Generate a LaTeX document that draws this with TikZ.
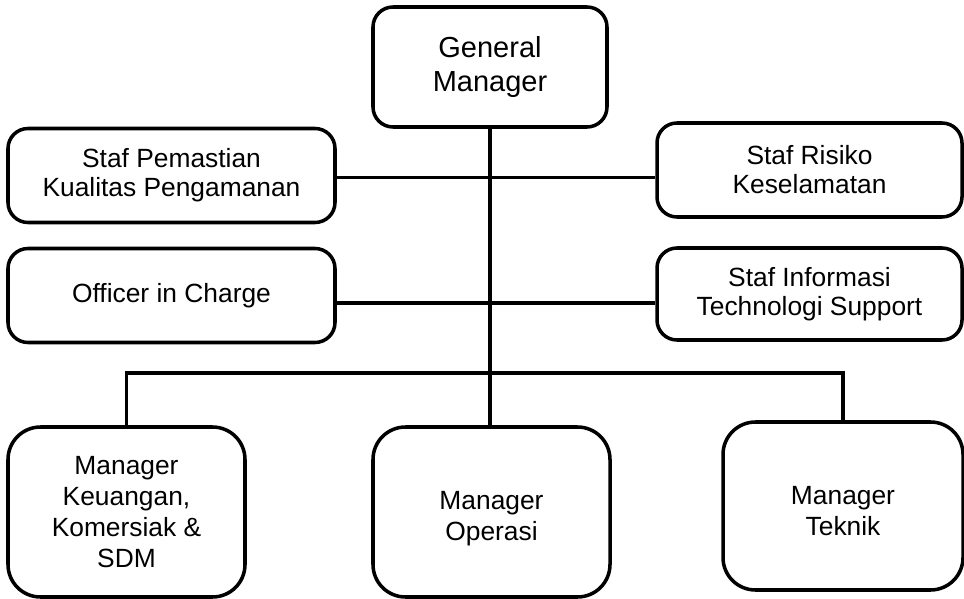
\documentclass[tikz,border=0pt]{standalone}
\usepackage{fontspec}
\setmainfont{Liberation Sans}
\usepackage {tikz}
\usetikzlibrary {positioning}
\tikzset{unit box/.style = {draw, rounded corners=0.4cm, align=center, inner sep=0pt}}

\begin{document}
\begin{tikzpicture}[line width=2pt, font=\fontsize{15}{16.5}\selectfont,
  head box/.style={unit box, minimum width=4.68cm, minimum height=2.4cm, font=\fontsize{16.5}{19}\selectfont},
  staff box/.style={unit box, minimum height=1.88cm},
  mgr box/.style={unit box, rounded corners=0.65cm, minimum width=4.74cm, minimum height=3.4cm, font=\fontsize{15}{17.5}\selectfont}]
            \useasboundingbox (0,0) rectangle (19.28,-11.98);
            \node[head box] (gm) at (9.8,-1.34) {General\\Manager};
            \node[staff box, minimum width=6.54cm] (pem) at (3.43,-3.51) {Staf Pemastian\\Kualitas Pengamanan};
            \node[staff box, minimum width=6.1cm] (risk) at (16.19,-3.4) {Staf Risiko\\Keselamatan};
            \node[staff box, minimum width=6.54cm] (oic) at (3.43,-5.91) {Officer in Charge};
            \node[staff box, minimum width=6.1cm, minimum height=1.84cm] (info) at (16.19,-5.88) {Staf Informasi\\Technologi Support};
            \node[mgr box] (keu) at (2.53,-10.24) {Manager\\Keuangan,\\Komersiak \&\\SDM};
            \node[mgr box, text height=1.25cm] (ops) at (9.83,-10.24) {Manager\\Operasi};
            \node[mgr box, minimum width=4.8cm, minimum height=3.36cm, text height=1.17cm] (tek) at (16.86,-10.12) {Manager\\Teknik};
            \coordinate (row1) at (0,-3.55);
            \coordinate (row2) at (0,-6.06);
            \coordinate (bus) at (0,-7.46);
            \path[-] (pem.east |- row1) edge (risk.west |- row1);
            \path[-] (oic.east |- row2) edge (info.west |- row2);
            \path[-] (gm.south) edge (gm.south |- ops.north);
            \draw (keu.north) |- (gm.south |- bus) -| (tek.north);
        \end{tikzpicture}
\end{document}
